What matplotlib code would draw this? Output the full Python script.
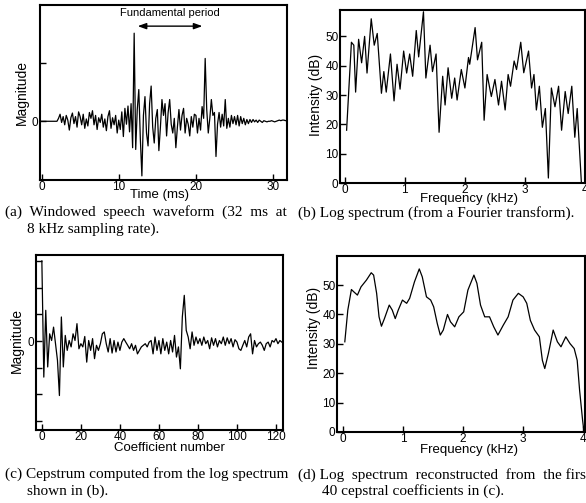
import numpy as np
from matplotlib import pyplot as plt

# (a) windowed speech waveform, one value every 0.2 ms
wave_dt = 0.2
wave = [
    0, 0, 0, 0, 0, 0, 0, 0, 0, 0, 0,
    0.05, 0.12, -0.02, 0.08, -0.06, 0.10, 0.02, -0.15, 0.06, 0.14,
    -0.04, 0.08, -0.10, 0.16, 0.08, -0.06, 0.12, -0.12, 0.04, -0.08,
    0.15, 0.05, 0.18, -0.06, 0.10, -0.14, 0.06, -0.02, 0.12, -0.10,
    0.04, -0.16, 0.08, 0.18, -0.12, 0.06, -0.06, 0.10, -0.20, 0.02,
    -0.14, 0.16, -0.26, 0.22, -0.05, 0.26, -0.18, 0.30, -0.45, 1.50,
    -0.48, 0.20, 0.54, -0.30, -0.93, 0.10, 0.42, -0.20, -0.42, 0.30,
    0.60, -0.10, -0.37, 0.05, 0.20, -0.50, -0.10, 0.37, 0.10, 0.30,
    -0.25, 0.15, 0.37, -0.05, -0.20, 0.05, -0.45, -0.10, 0.20, -0.15,
    0.10, 0.22, -0.20, 0.05, -0.05, -0.25, 0.08, -0.10, 0.12, 0.10,
    -0.20, 0.05, -0.15, 0.25, 0.05, 1.07, 0.20, -0.20, 0.05, 0.37,
    0.10, 0.15, -0.60, -0.05, 0.15, -0.10, 0.12, -0.08, 0.37, -0.12,
    0.05, -0.10, 0.10, -0.04, 0.08, -0.06, 0.10, -0.08, 0.08, -0.04,
    0.05, -0.06, 0.03, -0.04, 0.03, -0.02, 0.03, -0.01, 0.02, -0.02,
    0.02, 0.00, -0.02, 0.01, 0.00, -0.01, 0.00, 0.00, 0.01, 0.00,
    -0.01, 0.00, 0.01, 0.02, 0.01, 0.02, 0.02, 0.01, 0.02, 0.02,
]

# (b) log spectrum, peaks and valleys
freq_b = [0.03, 0.11, 0.15, 0.18, 0.23, 0.28, 0.33, 0.37, 0.44, 0.49,
          0.54, 0.61, 0.65, 0.69, 0.76, 0.82, 0.87, 0.92, 0.98, 1.03,
          1.08, 1.13, 1.19, 1.23, 1.31, 1.35, 1.42, 1.46, 1.52, 1.57,
          1.63, 1.67, 1.72, 1.78, 1.83, 1.87, 1.94, 2.00, 2.06, 2.08,
          2.17, 2.21, 2.28, 2.32, 2.37, 2.44, 2.50, 2.56, 2.61, 2.67,
          2.72, 2.76, 2.82, 2.86, 2.93, 2.98, 3.06, 3.11, 3.15, 3.19,
          3.24, 3.29, 3.34, 3.39, 3.44, 3.50, 3.56, 3.61, 3.67, 3.72,
          3.78, 3.83, 3.87, 3.94]
db_b = [18, 48, 47, 31, 49, 41, 50, 37.5, 56, 47,
        51, 30.6, 38, 31, 44, 28, 40.5, 32, 45, 37.5,
        44, 36.4, 52, 43, 58.4, 35.8, 47, 38, 44, 17.3,
        36.4, 26.6, 39.3, 28.9, 35.8, 28.3, 38.7, 32.4, 42.8, 40.5,
        53, 42, 48, 21.4, 37, 29.5, 35.3, 26.6, 34.7, 24.9,
        37, 33, 41.6, 38.7, 48, 37.6, 45, 32.4, 37, 24.9,
        33, 19, 25.4, 1.7, 32.4, 26, 33, 18, 31.2, 23.7,
        33, 15.6, 25.4, 0]

# (c) cepstrum, coefficients 0..123
ceps = [
    3.0, -1.35, 1.15, -0.97, 0.27, 0.02, 0.52, -0.10, -0.72, -2.04,
    0.90, -0.97, 0.21, -0.35, 0.02, -0.22, 0.27, 0.02, 0.65, -0.29,
    -0.10, -0.22, 0.17, -0.79, 0.02, -0.35, 0.09, -0.66, -0.16, -0.35,
    -0.10, 0.27, 0.34, -0.10, -0.41, 0.09, -0.45, 0.02, -0.41, -0.04,
    -0.35, -0.04, 0.09, -0.04, -0.16, -0.29, -0.10, -0.35, -0.16, -0.48,
    -0.35, -0.22, -0.16, -0.10, -0.22, -0.04, 0.02, -0.48, 0.15, -0.35,
    0.02, -0.48, 0.09, -0.35, -0.04, -0.48, 0.02, -0.41, 0.21, -0.60,
    -0.22, -1.04, 0.90, 1.71, 0.40, 0.15, -0.29, 0.34, -0.16, 0.15,
    -0.10, 0.09, -0.16, 0.15, -0.10, 0.02, -0.29, 0.12, -0.16, 0.09,
    -0.22, 0.02, -0.10, 0.15, -0.16, 0.12, -0.10, 0.09, -0.22, 0.05,
    -0.04, -0.29, -0.35, -0.16, 0.02, -0.22, 0.15, 0.27, -0.48, 0.02,
    -0.22, -0.10, -0.04, -0.16, -0.35, -0.10, -0.04, -0.22, 0.02, -0.04,
    0.09, -0.10, 0.02, -0.04,
]

# (d) log spectrum rebuilt from 40 cepstral coefficients
freq_d = [0.03, 0.08, 0.14, 0.18, 0.24, 0.30, 0.39, 0.47, 0.51, 0.56,
          0.60, 0.64, 0.69, 0.77, 0.82, 0.87, 0.92, 0.99, 1.06, 1.11,
          1.19, 1.27, 1.32, 1.39, 1.46, 1.51, 1.57, 1.62, 1.67, 1.74,
          1.79, 1.86, 1.93, 2.01, 2.08, 2.18, 2.23, 2.29, 2.36, 2.44,
          2.51, 2.58, 2.67, 2.75, 2.83, 2.92, 3.00, 3.06, 3.12, 3.19,
          3.27, 3.32, 3.36, 3.42, 3.50, 3.57, 3.63, 3.71, 3.78, 3.85,
          3.90, 3.94, 3.99, 4.01]
db_d = [30.7, 41.5, 48.5, 47.7, 46.6, 49.4, 51.7, 54.2, 53.4, 47.2,
        39.2, 36.0, 38.6, 43.2, 41.5, 38.6, 41.5, 44.9, 43.8, 45.5,
        51.1, 55.5, 52.8, 46.0, 44.9, 42.6, 36.9, 33.0, 34.7, 40.0,
        37.5, 35.8, 39.2, 40.9, 48.3, 53.4, 50.6, 43.2, 39.2, 39.2,
        35.8, 33.0, 36.4, 39.2, 44.9, 47.2, 46.0, 43.8, 38.0, 34.7,
        32.4, 24.4, 21.6, 26.7, 34.7, 30.7, 29.0, 32.4, 30.1, 28.4,
        24.4, 14.2, 4.0, 0.6]

plt.rcParams['font.family'] = ['Liberation Sans', 'DejaVu Sans']
SERIF = ['Liberation Serif', 'DejaVu Serif']
W, H = 586, 503


def make_axes(fig, left, top, right, bottom):
    ax = fig.add_axes([left / W, 1 - bottom / H, (right - left) / W, (bottom - top) / H])
    for s in ax.spines.values():
        s.set_linewidth(1.5)
    ax.tick_params(direction='in', length=4, width=1, labelsize=8.5, pad=1)
    return ax


def labels(ax, xlab, xpos, ylab, ypos):
    ax.set_xlabel(xlab, fontsize=9.5)
    ax.xaxis.set_label_coords(*xpos)
    ax.set_ylabel(ylab, fontsize=10)
    ax.yaxis.set_label_coords(*ypos)


fig = plt.figure(figsize=(W / 100, H / 100), dpi=100)

# (a)
ax = make_axes(fig, 40, 5, 287, 180)
t = np.arange(len(wave)) * wave_dt
ax.plot(t, wave, color='black', lw=0.9)
ax.set_xlim(-0.2, 31.8)
ax.set_ylim(-1.0, 1.98)
ax.set_xticks([0, 10, 20, 30])
ax.set_yticks([0, 1])
ax.set_yticklabels(['0', ''])
labels(ax, 'Time (ms)', (0.483, -0.05), 'Magnitude', (-0.045, 0.50))
ax.annotate('', xy=(12.1, 1.62), xytext=(21.2, 1.62),
            arrowprops=dict(arrowstyle='<|-|>,head_length=0.5,head_width=0.18',
                            color='black', lw=1))
ax.text(16.6, 1.84, 'Fundamental period', ha='center', va='center', fontsize=8)

# (b)
ax = make_axes(fig, 340, 10, 585, 183)
ax.plot(freq_b, db_b, color='black', lw=0.9)
ax.set_xlim(-0.08, 4.0)
ax.set_ylim(0, 59)
ax.set_xticks([0, 1, 2, 3, 4])
ax.set_yticks([0, 10, 20, 30, 40, 50])
labels(ax, 'Frequency (kHz)', (0.527, -0.056), 'Intensity (dB)', (-0.07, 0.51))

# (c)
ax = make_axes(fig, 36, 255, 283, 430)
ax.plot(np.arange(len(ceps)), ceps, color='black', lw=0.9)
ax.set_xlim(-3, 123.6)
ax.set_ylim(-3.33, 3.22)
ax.set_xticks([0, 20, 40, 60, 80, 100, 120])
ax.set_yticks([-3, -2, -1, 0, 1, 2, 3])
ax.set_yticklabels(['', '', '', '0', '', '', ''])
labels(ax, 'Coefficient number', (0.54, -0.066), 'Magnitude', (-0.05, 0.51))

# (d)
ax = make_axes(fig, 337, 256, 585, 432)
ax.plot(freq_d, db_d, color='black', lw=0.9)
ax.set_xlim(-0.1, 4.03)
ax.set_ylim(0, 59.9)
ax.set_xticks([0, 1, 2, 3, 4])
ax.set_yticks([0, 10, 20, 30, 40, 50])
labels(ax, 'Frequency (kHz)', (0.532, -0.066), 'Intensity (dB)', (-0.066, 0.59))

# captions
cap = dict(fontsize=11, family=SERIF, va='center', ha='left')
fig.text(5 / W, 1 - 212 / H, '(a)  Windowed  speech  waveform  (32  ms  at', **cap)
fig.text(27 / W, 1 - 229 / H, '8 kHz sampling rate).', **cap)
fig.text(298 / W, 1 - 213 / H, '(b) Log spectrum (from a Fourier transform).', **cap)
fig.text(5 / W, 1 - 474 / H, '(c) Cepstrum computed from the log spectrum', **cap)
fig.text(27 / W, 1 - 491 / H, 'shown in (b).', **cap)
fig.text(298 / W, 1 - 475 / H, '(d) Log  spectrum  reconstructed  from  the first', **cap)
fig.text(322 / W, 1 - 491 / H, '40 cepstral coefficients in (c).', **cap)

fig.savefig('out.png', dpi=100)
